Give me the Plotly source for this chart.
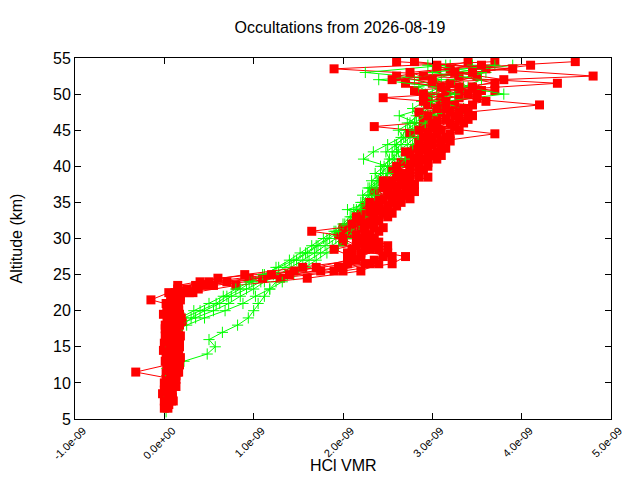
import plotly.graph_objects as go

# altitude grids (km)
ALT_A = [6.5, 7.5, 8.5, 9.5, 10.5, 11.5, 12.5, 13.5, 14.5, 15.5, 16.5, 17.5, 18.5, 19.5,
         20.5, 21.5, 22.5, 23.5, 24.5, 25.5, 26.5, 27.5, 28.5, 29.5, 30.5, 31.5, 32.5,
         33.5, 34.5, 35.5, 36.5, 37.5, 38.5, 39.5, 40.5, 41.5, 42.5, 43.5, 44.5, 45.5,
         46.5, 47.5, 48.5, 49.5, 50.5, 51.5, 52.5, 53.5, 54.5]
ALT_B = [7.0, 8.0, 9.0, 10.0, 11.0, 12.0, 13.0, 14.0, 15.0, 16.0, 17.0, 18.0, 19.0, 20.0,
         21.0, 22.0, 23.0, 24.0, 25.0, 26.0, 27.0, 28.0, 29.0, 30.0, 31.0, 32.0, 33.0,
         34.0, 35.0, 36.0, 37.0, 38.0, 39.0, 40.0, 41.0, 42.0, 43.0, 44.0, 45.0, 46.0,
         47.0, 48.0, 49.0, 50.0, 51.0, 52.0, 53.0, 54.0]
ALT_G = [6, 7, 8, 9, 10, 11, 12, 13, 14, 15, 16, 17, 18, 19, 20, 21, 22, 23, 24, 25, 26,
         27, 28, 29, 30, 31, 32, 33, 34, 35, 36, 37, 38, 39, 40, 41, 42, 43, 44, 45, 46,
         47, 48, 49, 50, 51, 52, 53, 54]

# HCl VMR, units of 1e-9 (red profiles)
red_1 = [0.00, 0.03, 0.06, 0.01, 0.08, 0.04, 0.12, 0.07, 0.15, 0.02, 0.10, 0.16, 0.05, 0.13,
         0.03, 0.09, 0.22, 0.35, 0.95, 1.75, 2.25, 2.45, 2.30, 2.15, 2.05, 2.20, 2.30, 2.35,
         2.40, 2.55, 2.50, 2.65, 2.70, 2.75, 2.80, 2.85, 2.90, 3.00, 2.95, 3.05, 3.15, 3.10,
         3.25, 3.10, 3.30, 3.20, 3.50, 3.05, 3.40]
red_2 = [None, 0.08, -0.02, 0.04, 0.11, -0.32, 0.03, 0.14, 0.06, 0.17, 0.01, 0.09, 0.15, -0.01,
         0.12, 0.07, 0.28, 0.55, 1.30, 2.00, 2.55, 2.70, 2.25, 2.00, 1.95, 2.10, 2.15, 2.30,
         2.25, 2.45, 2.60, 2.55, 2.75, 2.60, 2.85, 2.95, 2.80, 3.10, 3.70, 3.00, 2.90, 3.30,
         3.10, 2.95, 3.55, 2.70, 4.80, 3.60, 2.80]
red_3 = [0.04, 0.00, 0.09, 0.12, 0.02, 0.15, 0.17, 0.05, 0.13, 0.10, 0.18, 0.07, 0.20, 0.11,
         0.16, -0.15, 0.05, 0.15, 0.60, 1.45, 2.05, 2.20, 2.40, 2.25, 2.30, 2.35, 2.20, 2.45,
         2.60, 2.40, 2.70, 2.80, 2.60, 2.90, 2.70, 3.00, 3.10, 2.85, 3.20, 2.35, 3.30, 3.40,
         4.20, 3.30, 2.80, 3.70, 3.30, 1.90, 3.70]
red_4 = [None, None, None, 0.07, 0.13, 0.02, 0.16, 0.09, -0.01, 0.14, 0.06, 0.01, 0.19, 0.08,
         0.14, 0.11, 0.32, 0.80, 1.60, 2.20, 2.40, 2.10, 1.90, 2.30, 2.15, 2.00, 2.40, 2.20,
         2.50, 2.65, 2.35, 2.50, 2.85, 2.55, 2.95, 2.75, 3.15, 2.95, 2.75, 3.25, 3.05, 2.85,
         3.45, 2.45, 3.70, 3.00, 2.60, 3.20, 4.60]
red_5 = [None, 0.10, 0.05, 0.13, 0.07, 0.16, 0.04, 0.18, 0.11, 0.00, 0.15, 0.12, 0.03, 0.17,
         0.06, 0.18, 0.12, 0.45, 1.10, 1.90, 2.30, 2.55, 2.10, 2.40, 2.25, 2.45, 2.35, 2.55,
         2.35, 2.75, 2.80, 2.70, 2.95, 2.85, 2.65, 3.10, 2.95, 3.20, 3.05, 2.90, 3.40, 3.20,
         2.95, 3.50, 3.15, 4.40, 2.90, 3.90, 2.60]
red_6 = [0.02, 0.06, 0.00, 0.09, 0.12, 0.03, 0.10, 0.16, 0.06, 0.13, 0.04, 0.17, 0.08, 0.14,
         0.02, 0.11, 0.25, 0.70, 1.40, 1.95, 2.35, 2.50, 2.15, 2.00, 2.25, 2.10, 2.35, 2.50,
         2.30, 2.60, 2.45, 2.70, 2.85, 2.75, 2.90, 3.05, 2.85, 3.15, 3.30, 3.00, 3.25, 3.35,
         3.15, 2.90, 3.45, 3.80, 3.25, 3.05]
red_7 = [None, None, 0.08, 0.03, 0.07, 0.14, 0.01, 0.11, 0.17, 0.05, 0.12, 0.08, 0.19, 0.03,
         0.15, 0.09, 0.38, 0.50, 1.20, 1.70, 2.05, 2.20, 2.35, 2.20, 1.65, 2.30, 2.15, 2.40,
         2.65, 2.50, 2.75, 2.55, 2.65, 2.95, 2.80, 2.70, 3.00, 2.90, 3.10, 3.35, 2.95, 3.15,
         3.60, 3.40, 3.10, 2.55, 3.45, 4.10]
red_8 = [0.05, 0.09, 0.03, 0.00, 0.13, 0.06, 0.12, 0.02, 0.09, 0.15, 0.10, 0.01, 0.11, 0.16,
         0.08, 0.18, 0.15, 0.40, 0.90, 1.55, 2.15, 2.05, 2.50, 2.35, 2.40, 2.25, 2.50, 2.30,
         2.55, 2.70, 2.60, 2.45, 2.70, 2.60, 3.05, 2.85, 3.10, 3.00, 2.85, 3.20, 3.45, 3.05,
         2.90, 3.50, 3.30, 3.00, 2.75, 3.55]

# green profiles
green_1 = [0.02, 0.04, 0.01, 0.05, 0.03, 0.06, 0.04, 0.08, 0.05, 0.09, 0.07, 0.10, 0.14, 0.35,
           0.55, 0.72, 0.85, 1.00, 1.12, 1.28, 1.42, 1.55, 1.68, 1.80, 1.92, 2.00, 2.08, 2.15,
           2.12, 2.22, 2.30, 2.28, 2.38, 2.45, 2.42, 2.55, 2.62, 2.58, 2.70, 2.78, 2.72, 2.85,
           2.95, 2.88, 3.05, 3.15, 3.00, 3.30, 3.20]
green_2 = [None, 0.03, 0.06, 0.04, 0.07, 0.09, 0.12, 0.22, 0.48, 0.57, 0.50, 0.65, 0.82, 0.94,
           1.00, 1.05, 1.12, 1.18, 1.25, 1.38, 1.50, 1.62, 1.75, 1.88, 1.98, 2.05, 2.12, 2.20,
           2.28, 2.35, 2.32, 2.42, 2.50, 2.48, 2.58, 2.65, 2.60, 2.72, 2.80, 2.75, 2.88, 2.95,
           3.35, 3.05, 3.20, 3.40, 3.25, 3.60, 3.45]
green_3 = [None, None, 0.05, 0.02, 0.06, 0.03, 0.07, 0.05, 0.09, 0.06, 0.10, 0.08, 0.25, 0.45,
           0.68, 0.88, 1.02, 1.18, 1.32, 1.45, 1.58, 1.70, 1.82, 1.95, 2.05, 2.10, 2.18, 2.25,
           2.05, 2.30, 2.40, 2.35, 2.48, 2.55, 2.50, 2.23, 2.34, 2.50, 2.65, 2.70, 2.82, 2.63,
           2.90, 3.00, 2.92, 3.10, 2.80, 3.25, 3.90]
green_4 = [None, None, None, 0.08, 0.05, 0.10, 0.06, 0.11, 0.08, 0.12, 0.09, 0.13, 0.20, 0.30,
           0.45, 0.62, 0.75, 0.92, 1.08, 1.22, 1.35, 1.48, 1.60, 1.72, 1.85, 1.95, 2.02, 2.10,
           2.18, 2.25, 2.22, 2.32, 2.40, 2.36, 2.46, 2.52, 2.48, 2.60, 2.68, 2.62, 2.75, 2.82,
           2.78, 2.92, 3.00, 2.85, 3.10, 2.25, 3.15]
green_5 = [None, None, None, None, 0.04, 0.07, 0.03, 0.08, 0.05, 0.09, 0.04, 0.06, 0.10, 0.22,
           0.40, 0.58, 0.70, 0.85, 0.98, 1.12, 1.25, 1.40, 1.52, 1.65, 1.78, 1.90, 2.00, 2.08,
           2.15, 2.20, 2.28, 2.38, 2.32, 2.42, 2.50, 2.58, 2.55, 2.65, 2.75, 2.85, 2.80, 2.92,
           3.02, 3.15, 3.80, 3.35, 3.55, 3.00, 3.70]
green_6 = [None, None, None, None, None, None, 0.05, 0.08, 0.04, 0.07, 0.11, 0.06, 0.09, 0.18,
           0.33, 0.50, 0.66, 0.80, 0.95, 1.10, 1.28, 1.45, 1.58, 1.70, 1.82, 1.92, 2.05, 2.12,
           2.20, 2.28, 2.35, 2.30, 2.42, 2.50, 2.62, 2.70, 2.66, 2.78, 2.85, 2.80, 2.92, 3.00,
           3.10, 2.98, 3.25, 3.05, 2.40, 3.55, 2.95]

red_profiles = [(ALT_A, red_1), (ALT_A, red_2), (ALT_A, red_3), (ALT_A, red_4),
                (ALT_A, red_5), (ALT_B, red_6), (ALT_B, red_7), (ALT_B, red_8)]
green_profiles = [green_1, green_2, green_3, green_4, green_5, green_6]

x_ticks = [-1e-9, 0, 1e-9, 2e-9, 3e-9, 4e-9, 5e-9]
x_labels = ["-1.0e-09", "0.0e+00", "1.0e-09", "2.0e-09", "3.0e-09", "4.0e-09", "5.0e-09"]


def scaled(vals):
    return [None if v is None else v * 1e-9 for v in vals]


fig = go.Figure()

# interleave the two sets like the occultation loop does
for i in range(max(len(red_profiles), len(green_profiles))):
    if i < len(green_profiles):
        fig.add_trace(go.Scatter(x=scaled(green_profiles[i]), y=ALT_G, mode='lines+markers',
                                 line=dict(color='#00ff00', width=1),
                                 marker=dict(symbol='cross-thin', size=8,
                                             line=dict(color='#00ff00', width=1)),
                                 showlegend=False))
    if i < len(red_profiles):
        alt, vals = red_profiles[i]
        fig.add_trace(go.Scatter(x=scaled(vals), y=alt, mode='lines+markers',
                                 line=dict(color='#ff0000', width=1),
                                 marker=dict(symbol='square', size=9, color='#ff0000'),
                                 showlegend=False))

fig.update_xaxes(range=[-1e-9, 5e-9], tickvals=x_ticks, ticktext=x_labels, tickangle=-45,
                 ticks='inside', ticklen=6, tickcolor='black', showline=True, linecolor='black',
                 linewidth=1, mirror='ticks', showgrid=False, zeroline=False, automargin=False,
                 tickfont=dict(size=11), ticklabelshift=8)
fig.update_yaxes(range=[5, 55], dtick=5, ticks='inside', ticklen=6, tickcolor='black',
                 showline=True, linecolor='black', linewidth=1, mirror='ticks',
                 showgrid=False, zeroline=False, automargin=False, tickfont=dict(size=16),
                 title=dict(text='Altitude (km)', font=dict(size=16), standoff=28))

# x title as annotation so it sits right under the rotated tick labels
fig.add_annotation(text='HCl VMR', xref='paper', yref='paper', x=0.5, y=0,
                   xanchor='center', yanchor='middle', yshift=-46, showarrow=False,
                   font=dict(size=16))

# page has an 8px body margin, so the figure is 8px smaller than the window
fig.update_layout(
    width=632, height=472,
    title=dict(text='Occultations from 2026-08-19', x=332 / 632, xanchor='center',
               y=1 - 19 / 472, yanchor='middle', automargin=False,
               font=dict(size=16, color='black')),
    font=dict(family='Liberation Sans, Arial, sans-serif', color='black'),
    plot_bgcolor='white', paper_bgcolor='white',
    margin=dict(l=67, r=29, t=50, b=61),
)

fig.write_html("out.html")
